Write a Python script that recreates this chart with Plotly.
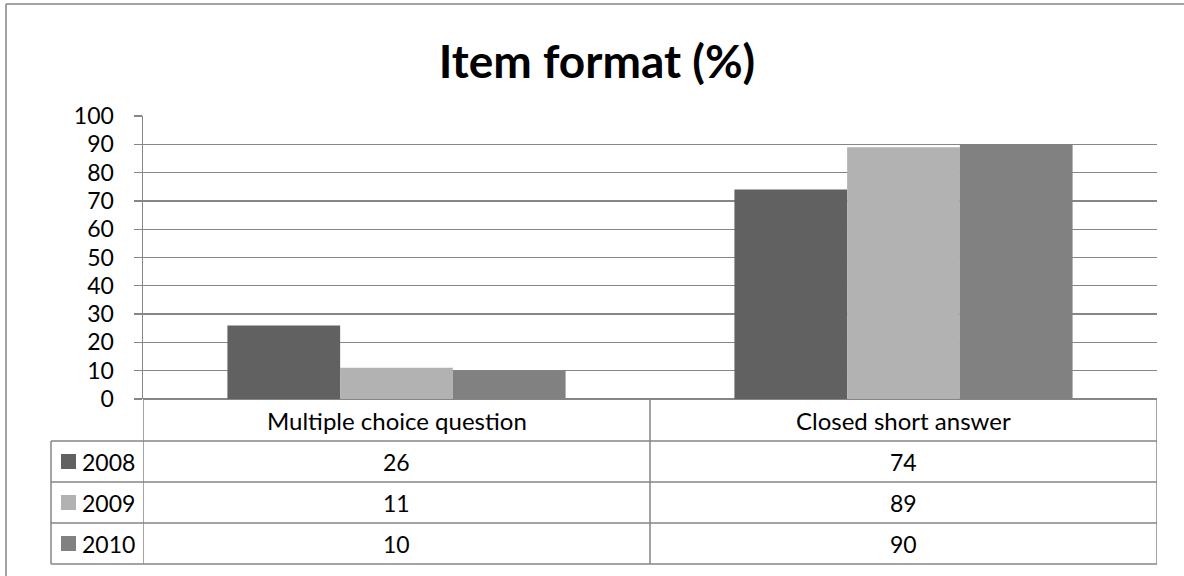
import plotly.graph_objects as go

categories = ["Multiple choice question", "Closed short answer"]
years = ["2008", "2009", "2010"]
v2008 = [26, 74]
v2009 = [11, 89]
v2010 = [10, 90]
series = [v2008, v2009, v2010]
colors = ["#616161", "#b2b2b2", "#818181"]
y_ticks = list(range(0, 101, 10))

W, H = 1184, 576
L, R, T, B = 143, 1157, 116, 399
PW, PH = R - L, B - T
FONT = "Lato"
GRID = "#868686"
TXT = 24
NUM = 23


def px_x(px):
    return (px - L) / PW


def px_y(py):
    return (B - py) / PH


fig = go.Figure()
for name, vals, col in zip(years, series, colors):
    fig.add_trace(go.Bar(x=categories, y=vals, name=name, marker=dict(color=col, line=dict(width=0)),
                         showlegend=False, hoverinfo="skip"))

shapes = []
ann = []
line = dict(color=GRID, width=1.5)
row_px = [441, 482, 523, 564]
for py in row_px:
    shapes.append(dict(type="line", xref="paper", yref="paper", x0=px_x(51), x1=1, y0=px_y(py), y1=px_y(py), line=line))
shapes.append(dict(type="line", xref="paper", yref="paper", x0=px_x(51), x1=px_x(51), y0=px_y(441), y1=px_y(564), line=line))
for xv in [-0.5, 0.5, 1.5]:
    shapes.append(dict(type="line", xref="x", yref="paper", x0=xv, x1=xv, y0=0, y1=px_y(564), line=line))
# outer chart border (top and left edges visible)
shapes.append(dict(type="line", xref="paper", yref="paper", x0=px_x(6), x1=px_x(1184), y0=px_y(4), y1=px_y(4),
                   line=dict(color=GRID, width=1.5)))
shapes.append(dict(type="line", xref="paper", yref="paper", x0=px_x(6), x1=px_x(6), y0=px_y(4), y1=px_y(576),
                   line=dict(color=GRID, width=1.5)))

for c in categories:
    ann.append(dict(x=c, xref="x", y=px_y(420), yref="paper", text=c, showarrow=False,
                    font=dict(family=FONT, size=TXT, color="#000"), xanchor="center", yanchor="middle"))
row_centers = [461.5, 502.5, 543.5]
for yi, (name, vals, col) in enumerate(zip(years, series, colors)):
    yc = row_centers[yi]
    for c, v in zip(categories, vals):
        ann.append(dict(x=c, xref="x", y=px_y(yc), yref="paper", text=str(v), showarrow=False,
                        font=dict(family=FONT, size=NUM, color="#000"), xanchor="center", yanchor="middle"))
    shapes.append(dict(type="rect", xref="paper", yref="paper", x0=px_x(61), x1=px_x(76),
                       y0=px_y(yc + 7.5), y1=px_y(yc - 7.5), fillcolor=col, line=dict(width=0)))
    ann.append(dict(x=px_x(80), xref="paper", y=px_y(yc), yref="paper", text=name, showarrow=False,
                    font=dict(family=FONT, size=NUM, color="#000"), xanchor="left", yanchor="middle"))

fig.update_layout(
    width=W, height=H,
    margin=dict(l=L, r=W - R, t=T, b=H - B, pad=0),
    paper_bgcolor="white", plot_bgcolor="white",
    barmode="group", bargap=0.333, bargroupgap=0,
    title=dict(text="<b>Item format (%)</b>", x=597 / W, xanchor="center", y=1 - 62 / H, yanchor="middle",
               yref="container", font=dict(family=FONT, size=46, color="#000")),
    xaxis=dict(showticklabels=False, showgrid=False, showline=False, zeroline=False, ticks="",
               range=[-0.5, 1.5], fixedrange=True),
    yaxis=dict(range=[0, 100], tickvals=y_ticks, ticktext=[str(t) for t in y_ticks], showgrid=True, gridcolor=GRID,
               gridwidth=1.3, zeroline=True, zerolinecolor=GRID, zerolinewidth=1.3,
               showline=True, linecolor=GRID, linewidth=1.5, ticks="outside", ticklen=8, tickcolor=GRID,
               tickwidth=1.3, ticklabelstandoff=15, tickfont=dict(family=FONT, size=NUM, color="#000"),
               fixedrange=True),
    shapes=shapes, annotations=ann, showlegend=False, hovermode=False,
)

fig.write_html("out.html", config={"displayModeBar": False, "staticPlot": True},
               post_script="document.body.style.margin='0';document.body.style.overflow='hidden';")
